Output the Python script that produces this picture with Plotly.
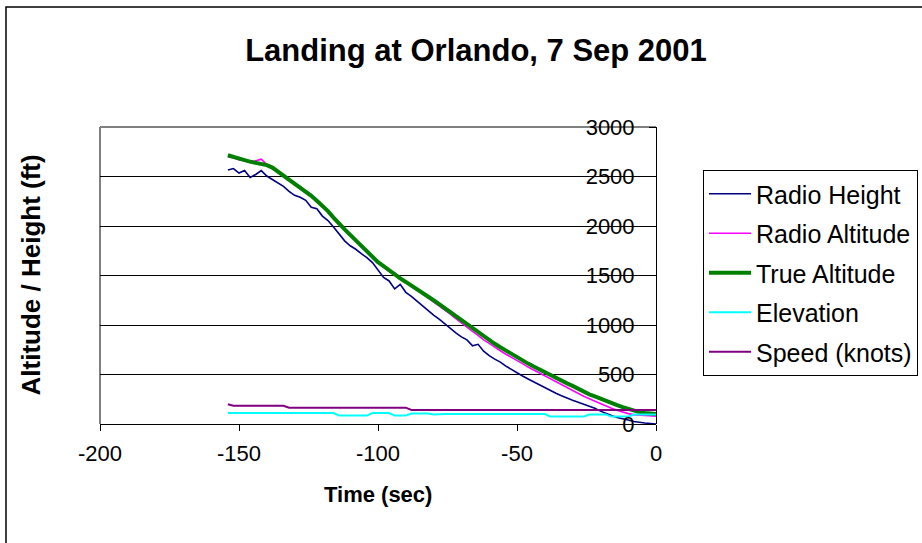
import plotly.graph_objects as go

# Sample times (seconds before touchdown), 2 s spacing
TIME_S = [-154, -152, -150, -148, -146, -144, -142, -140, -138, -136,
          -134, -132, -130, -128, -126, -124, -122, -120, -118, -116,
          -114, -112, -110, -108, -106, -104, -102, -100, -98, -96,
          -94, -92, -90, -88, -86, -84, -82, -80, -78, -76,
          -74, -72, -70, -68, -66, -64, -62, -60, -58, -56,
          -54, -52, -50, -48, -46, -44, -42, -40, -38, -36,
          -34, -32, -30, -28, -26, -24, -22, -20, -18, -16,
          -14, -12, -10, -8, -6, -4, -2, 0]

RADIO_HEIGHT = [2565, 2580, 2535, 2560, 2490, 2520, 2560, 2505, 2470, 2435,
                2400, 2350, 2310, 2290, 2260, 2190, 2175, 2100, 2055, 1990,
                1915, 1850, 1800, 1765, 1720, 1680, 1630, 1560, 1480, 1445,
                1365, 1410, 1330, 1290, 1240, 1200, 1150, 1100, 1060, 1010,
                960, 920, 880, 850, 790, 805, 735, 690, 655, 625,
                585, 550, 515, 485, 455, 425, 395, 370, 340, 310,
                285, 260, 240, 220, 200, 180, 160, 130, 105, 85,
                65, 55, 40, 25, 15, 10, 5, 0]

RADIO_ALTITUDE = [2700, 2690, 2670, 2660, 2640, 2655, 2675, 2620, 2585, 2560,
                  2510, 2465, 2425, 2400, 2345, 2320, 2260, 2200, 2145, 2090,
                  2035, 1960, 1905, 1860, 1790, 1740, 1695, 1630, 1590, 1545,
                  1525, 1480, 1430, 1390, 1355, 1320, 1275, 1235, 1195, 1150,
                  1110, 1065, 1020, 975, 935, 895, 850, 815, 775, 740,
                  705, 675, 640, 610, 575, 545, 515, 490, 460, 430,
                  400, 370, 340, 310, 280, 255, 230, 205, 185, 160,
                  140, 120, 105, 95, 90, 85, 85, 80]

TRUE_ALTITUDE = [2715, 2695, 2680, 2665, 2650, 2640, 2630, 2615, 2590, 2550,
                 2505, 2465, 2430, 2395, 2350, 2305, 2255, 2205, 2150, 2085,
                 2020, 1965, 1910, 1855, 1795, 1740, 1690, 1635, 1595, 1550,
                 1505, 1470, 1435, 1400, 1365, 1330, 1290, 1250, 1210, 1170,
                 1130, 1090, 1045, 1000, 960, 920, 880, 845, 810, 775,
                 740, 710, 680, 645, 610, 580, 550, 525, 495, 470,
                 440, 410, 385, 355, 325, 300, 280, 255, 235, 210,
                 190, 170, 150, 130, 120, 112, 105, 100]

ELEVATION = [110, 110, 110, 110, 110, 110, 110, 110, 110, 110,
             110, 110, 110, 110, 110, 110, 110, 110, 110, 110,
             85, 85, 85, 85, 85, 85, 110, 110, 110, 110,
             85, 85, 85, 105, 105, 105, 105, 95, 100, 100,
             100, 100, 100, 100, 100, 100, 100, 100, 100, 100,
             100, 100, 100, 100, 100, 100, 100, 100, 75, 75,
             75, 75, 75, 75, 75, 95, 95, 95, 95, 75,
             75, 75, 75, 95, 95, 95, 95, 95]

SPEED_KNOTS = [200, 185, 185, 185, 185, 185, 185, 185, 185, 185,
               185, 165, 165, 165, 165, 165, 165, 165, 165, 165,
               165, 165, 165, 165, 165, 165, 165, 165, 165, 165,
               165, 165, 165, 142, 142, 142, 142, 142, 142, 142,
               142, 142, 142, 142, 142, 142, 142, 142, 142, 142,
               142, 142, 142, 142, 142, 142, 142, 142, 142, 142,
               142, 142, 142, 142, 142, 142, 142, 142, 142, 142,
               142, 142, 142, 142, 142, 142, 142, 142]

X_TICKS = [-200, -150, -100, -50, 0]
X_TICK_TEXT = ["-200", "-150", "-100", "-50", "0"]
Y_TICKS = [0, 500, 1000, 1500, 2000, 2500, 3000]

FONT = "Liberation Sans, Arial, sans-serif"

series = [
    ("Radio Height", RADIO_HEIGHT, "#000080", 1.6),
    ("Radio Altitude", RADIO_ALTITUDE, "#FF00FF", 1.6),
    ("True Altitude", TRUE_ALTITUDE, "#008000", 4),
    ("Elevation", ELEVATION, "#00FFFF", 2),
    ("Speed (knots)", SPEED_KNOTS, "#800080", 2),
]

fig = go.Figure()
for name, values, color, width in series:
    fig.add_trace(go.Scatter(
        x=TIME_S, y=values, name=name, mode="lines",
        line=dict(color=color, width=width),
        legendgroup=name,
    ))

fig.update_layout(
    width=922, height=543,
    margin=dict(l=100, r=266, t=127, b=119, autoexpand=False),
    paper_bgcolor="white", plot_bgcolor="white",
    font=dict(family=FONT, color="black", size=20),
    title=dict(
        text="<b>Landing at Orlando, 7 Sep 2001</b>",
        font=dict(family=FONT, size=31, color="black"),
        x=476 / 922, xref="container", xanchor="center",
        y=1 - 50 / 543, yref="container", yanchor="middle",
    ),
    showlegend=True,
    legend=dict(
        x=(703 - 100) / 556, xanchor="left",
        y=1 - (170 - 127) / 297, yanchor="top",
        bordercolor="black", borderwidth=1,
        bgcolor="white",
        font=dict(family=FONT, size=25, color="black"),
        tracegroupgap=4,
        itemwidth=42,
        traceorder="grouped",
    ),
)

fig.update_xaxes(
    range=[-200, 0], tickvals=X_TICKS, ticktext=X_TICK_TEXT,
    ticks="outside", ticklen=6, tickcolor="black",
    showline=True, linecolor="black", linewidth=1,
    showgrid=False, zeroline=False,
    ticklabelstandoff=4,
    tickfont=dict(family=FONT, size=22, color="black"),
)

# value axis crosses at time 0 (right edge); labels sit to its left
fig.update_yaxes(
    range=[0, 3000], tickvals=Y_TICKS,
    side="left", anchor="free", position=1.0,
    ticks="outside", ticklen=7, tickcolor="black",
    ticklabelstandoff=10,
    showline=True, linecolor="black", linewidth=1,
    showgrid=True, gridcolor="black", gridwidth=1,
    zeroline=False,
    tickfont=dict(family=FONT, size=22, color="black"),
)

# axis titles
fig.add_annotation(
    text="<b>Time (sec)</b>", xref="paper", yref="paper",
    x=0.5, y=-(494 - 424) / 297, showarrow=False,
    xanchor="center", yanchor="middle",
    font=dict(family=FONT, size=22, color="black"),
)
fig.add_annotation(
    text="<b>Altitude / Height (ft)</b>", xref="paper", yref="paper",
    x=(30 - 100) / 556, y=0.5, showarrow=False, textangle=-90,
    xanchor="center", yanchor="middle",
    font=dict(family=FONT, size=26, color="black"),
)

# chart frame and plot-area edges
fig.add_shape(type="rect", xref="paper", yref="paper",
              x0=(6 - 100) / 556, x1=1.7, y0=-0.6, y1=1 + (127 - 7) / 297,
              line=dict(color="black", width=1.5), layer="below")
fig.add_shape(type="line", xref="paper", yref="paper",
              x0=0, x1=0, y0=0, y1=1,
              line=dict(color="#808080", width=2), layer="below")
fig.add_shape(type="line", xref="paper", yref="paper",
              x0=0, x1=1, y0=1, y1=1,
              line=dict(color="#808080", width=2), layer="below")

fig.write_html("out.html")
